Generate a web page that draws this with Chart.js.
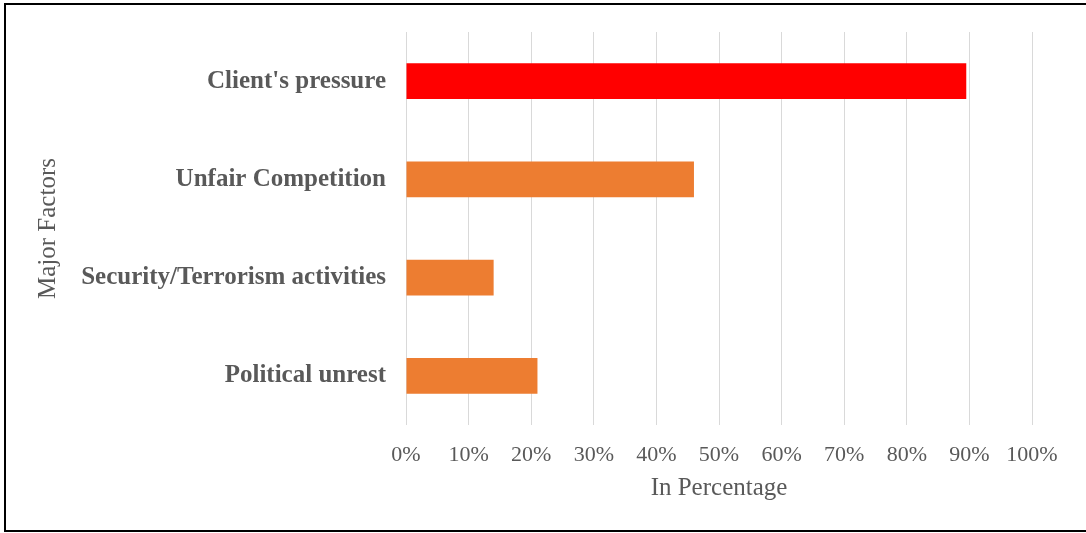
<!DOCTYPE html>
<html>
<head>
<meta charset="utf-8">
<script src="https://cdn.jsdelivr.net/npm/chart.js@4.4.1/dist/chart.umd.min.js"></script>
<style>
	html, body { margin: 0; padding: 0; background: #fff; }
	#frame {
		position: absolute;
		left: 4px;
		top: 3px;
		width: 1080px;
		height: 525px;
		border-top: 2px solid #000;
		border-left: 2px solid #000;
		border-bottom: 2px solid #000;
		border-right: 1px solid #d0d0d0;
	}
	#factorChart { display: block; }
</style>
</head>
<body>
<div id="frame">
	<canvas id="factorChart" width="1080" height="525"></canvas>
</div>
<script>
// Major factors, in percent
const factors = ["Client's pressure", 'Unfair Competition', 'Security/Terrorism activities', 'Political unrest'];
const shares = [89.5, 46, 14, 21];
const barColors = ['#ff0000', '#ed7d31', '#ed7d31', '#ed7d31'];
const percentTicks = [0, 10, 20, 30, 40, 50, 60, 70, 80, 90, 100];

const textGray = '#595959';
const serif = "'Liberation Serif', 'Times New Roman', serif";

const ctx = document.getElementById('factorChart').getContext('2d');
new Chart(ctx, {
	type: 'bar',
	data: {
		labels: factors,
		datasets: [{
			label: 'Share',
			data: shares,
			backgroundColor: barColors,
			borderWidth: 0,
			categoryPercentage: 1,
			barPercentage: 0.366,
		}]
	},
	options: {
		indexAxis: 'y',
		responsive: false,
		animation: false,
		layout: {
			padding: { top: 19, right: 54, bottom: 0, left: 0 }
		},
		plugins: {
			legend: { display: false },
			tooltip: { enabled: false }
		},
		scales: {
			x: {
				min: 0,
				max: 100,
				afterBuildTicks: (scale) => {
					scale.ticks = percentTicks.map(v => ({ value: v }));
				},
				afterFit: (scale) => {
					scale.height = 105;
				},
				ticks: {
					callback: (v) => v + '%',
					color: textGray,
					padding: 17,
					maxRotation: 0,
					font: { family: serif, size: 22 }
				},
				grid: {
					display: true,
					color: '#d9d9d9',
					lineWidth: 1,
					drawTicks: false
				},
				border: { display: false },
				title: {
					display: true,
					text: 'In Percentage',
					color: textGray,
					padding: { top: 0, bottom: 27 },
					font: { family: serif, size: 25 }
				}
			},
			y: {
				afterFit: (scale) => {
					scale.width = 400;
				},
				ticks: {
					color: textGray,
					padding: 12,
					font: { family: serif, size: 25, weight: 'bold' }
				},
				grid: { display: false },
				border: { display: false },
				title: {
					display: true,
					text: 'Major Factors',
					color: textGray,
					padding: { top: 27, bottom: 0 },
					font: { family: serif, size: 25 }
				}
			}
		}
	}
});
</script>
</body>
</html>
